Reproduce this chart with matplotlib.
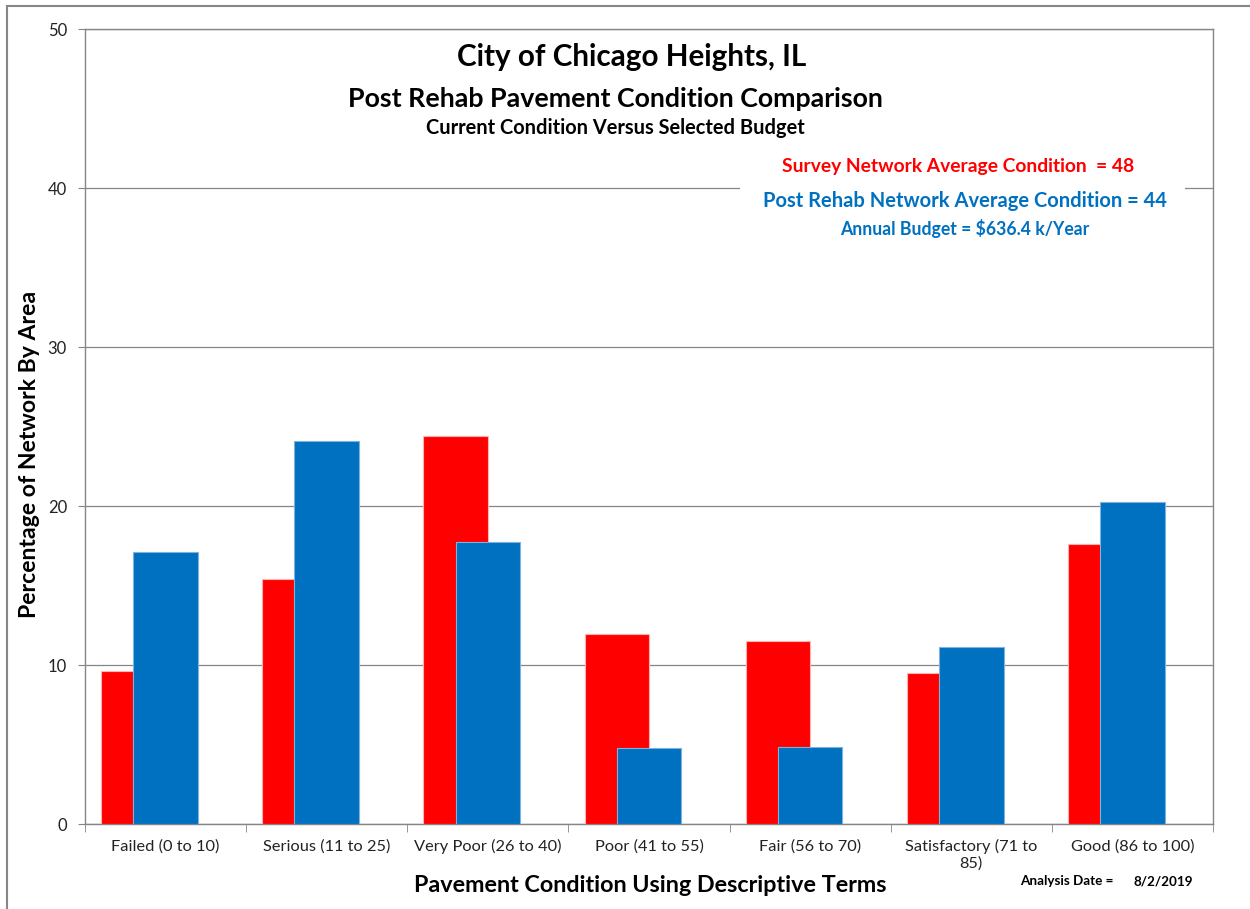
import numpy as np
import matplotlib.pyplot as plt
from matplotlib.patches import Rectangle

# Datos
categories = ['Failed (0 to 10)', 'Serious (11 to 25)', 'Very Poor (26 to 40)',
              'Poor (41 to 55)', 'Fair (56 to 70)', 'Satisfactory (71 to\n85)',
              'Good (86 to 100)']
survey = [9.6, 15.4, 24.4, 11.95, 11.5, 9.5, 17.6]
post_rehab = [17.1, 24.1, 17.75, 4.8, 4.85, 11.15, 20.25]
yticks = [0, 10, 20, 30, 40, 50]

plt.rcParams['font.family'] = ['Lato', 'DejaVu Sans']

fig = plt.figure(figsize=(12.5, 9.09), dpi=100)
ax = fig.add_axes([0.068, 0.0935, 0.9024, 0.8745])

x = np.arange(len(categories))
ax.bar(x - 0.2, survey, width=0.4, color='#FF0000', edgecolor='#FFB3B3', linewidth=0.8, zorder=3)
ax.bar(x, post_rehab, width=0.4, color='#0070C0', edgecolor='#7FB2DE', linewidth=0.8, zorder=4)

ax.set_xlim(-0.5, len(categories) - 0.5)
ax.set_ylim(0, 50)
ax.set_yticks(yticks)
ax.set_xticks(x)
ax.set_xticklabels(categories, fontsize=11.8, color='#222222')
ax.set_xticks(np.arange(-0.5, len(categories)), minor=True)
ax.tick_params(axis='x', which='major', length=0, pad=11)
ax.tick_params(axis='x', which='minor', length=6, color='#868686')
ax.tick_params(axis='y', length=5, color='#868686', pad=8, labelsize=12, labelcolor='#222222')
ax.grid(axis='y', color='#868686', linewidth=0.9)
ax.set_axisbelow(True)
for s in ax.spines.values():
    s.set_color('#868686')
    s.set_linewidth(1.0)

# caja blanca de las anotaciones
ax.add_patch(Rectangle((0.581, 0.728), 0.394, 0.12, transform=ax.transAxes,
                       facecolor='white', edgecolor='none', zorder=2))

fig.text(0.5056, 0.937, 'City of Chicago Heights, IL', ha='center', va='center',
         fontsize=21.3, fontweight='bold')
fig.text(0.492, 0.891, 'Post Rehab Pavement Condition Comparison', ha='center', va='center',
         fontsize=19.3, fontweight='bold')
fig.text(0.4925, 0.859, 'Current Condition Versus Selected Budget', ha='center', va='center',
         fontsize=14.4, fontweight='bold')
fig.text(0.7665, 0.8166, 'Survey Network Average Condition  = 48', ha='center', va='center',
         fontsize=13.9, fontweight='bold', color='#FF0000')
fig.text(0.772, 0.779, 'Post Rehab Network Average Condition = 44', ha='center', va='center',
         fontsize=14.5, fontweight='bold', color='#0070C0')
fig.text(0.7716, 0.749, 'Annual Budget = $636.4 k/Year', ha='center', va='center',
         fontsize=12.7, fontweight='bold', color='#0070C0')

fig.text(0.024, 0.5, 'Percentage of Network By Area', rotation=90, ha='center', va='center',
         fontsize=16.6, fontweight='bold')
fig.text(0.52, 0.0264, 'Pavement Condition Using Descriptive Terms', ha='center', va='center',
         fontsize=16.8, fontweight='bold')
fig.text(0.816, 0.0308, 'Analysis Date =', ha='left', va='center', fontsize=9.7, fontweight='bold')
fig.text(0.9544, 0.0308, '8/2/2019', ha='right', va='center', fontsize=9.7, fontweight='bold')

# marco exterior
fig.patches.append(Rectangle((0.0056, -0.05), 1.1, 1.0434, transform=fig.transFigure,
                             facecolor='none', edgecolor='#868686', linewidth=1.5))

fig.savefig('out.png', dpi=100)
